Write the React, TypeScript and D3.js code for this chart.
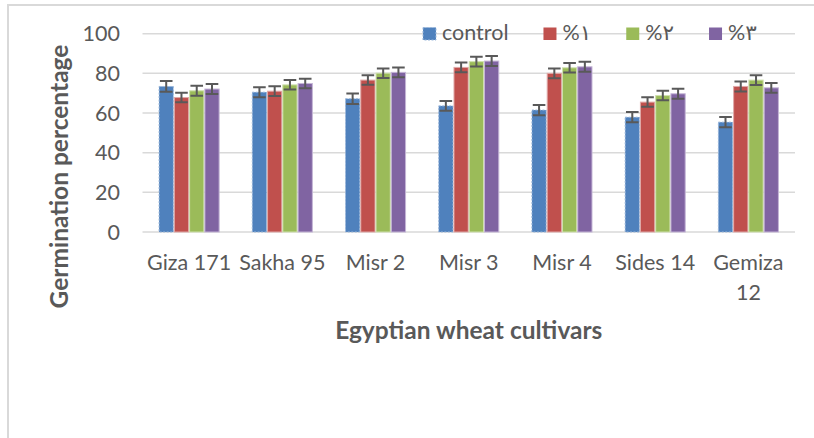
import React, { useEffect, useRef } from "react";
import * as d3 from "d3";

const categories: string[][] = [
  ["Giza 171"],
  ["Sakha 95"],
  ["Misr 2"],
  ["Misr 3"],
  ["Misr 4"],
  ["Sides 14"],
  ["Gemiza", "12"],
];
const seriesNames = ["control", "\u202D%\u0661\u202C", "\u202D%\u0662\u202C", "\u202D%\u0663\u202C"];
const seriesColors = ["#4f81bd", "#c0504d", "#9bbb59", "#8064a2"];
const seriesStrokes = ["#9bb7da", "#e0a9a8", "#cfe0ae", "#c4b5d6"];

const controlValues = [73.4, 70.5, 67.2, 63.6, 61.5, 57.9, 55.4];
const pct1Values = [67.8, 71.0, 76.6, 83.0, 80.0, 65.5, 73.4];
const pct2Values = [71.2, 74.2, 80.1, 85.9, 82.8, 68.8, 76.6];
const pct3Values = [72.1, 74.9, 80.5, 86.2, 83.3, 69.7, 72.7];

const controlErr = [2.7, 2.5, 2.6, 2.5, 2.6, 2.6, 2.6];
const pct1Err = [2.4, 2.45, 2.4, 2.5, 2.5, 2.4, 2.5];
const pct2Err = [2.5, 2.4, 2.4, 2.5, 2.4, 2.4, 2.5];
const pct3Err = [2.5, 2.4, 2.5, 2.5, 2.5, 2.5, 2.5];

const yTicks = [0, 20, 40, 60, 80, 100];
const yTitle = "Germination percentage";
const xTitle = "Egyptian wheat cultivars";

const W = 814;
const H = 438;
const FONT = "Lato, 'Open Sans', 'DejaVu Sans', sans-serif";
const TEXT = "#595959";
const GRID = "#d9d9d9";

export default function App() {
  const ref = useRef<SVGSVGElement | null>(null);

  useEffect(() => {
    const svg = d3.select(ref.current);
    svg.selectAll("*").remove();

    const values = [controlValues, pct1Values, pct2Values, pct3Values];
    const errs = [controlErr, pct1Err, pct2Err, pct3Err];
    const catKeys = categories.map((c) => c.join(" "));

    const plot = { left: 142.5, right: 795, top: 33.7, bottom: 232 };

    // outer frame
    svg
      .append("rect")
      .attr("x", 8)
      .attr("y", 5)
      .attr("width", 1000)
      .attr("height", 1000)
      .attr("fill", "#fff")
      .attr("stroke", GRID)
      .attr("stroke-width", 2);

    const y = d3.scaleLinear().domain([0, 100]).range([plot.bottom, plot.top]);
    const x0 = d3
      .scaleBand<string>()
      .domain(catKeys)
      .range([plot.left, plot.right])
      .paddingInner(0.345)
      .paddingOuter(0.1725);
    const x1 = d3
      .scaleBand<number>()
      .domain(d3.range(values.length))
      .range([0, x0.bandwidth()]);

    // gridlines
    svg
      .append("g")
      .selectAll("line")
      .data(yTicks)
      .join("line")
      .attr("x1", plot.left)
      .attr("x2", plot.right)
      .attr("y1", (d) => y(d))
      .attr("y2", (d) => y(d))
      .attr("stroke", GRID)
      .attr("stroke-width", 1.5);

    // y tick labels
    svg
      .append("g")
      .selectAll("text")
      .data(yTicks)
      .join("text")
      .attr("x", 120)
      .attr("y", (d) => y(d))
      .attr("dy", "0.36em")
      .attr("text-anchor", "end")
      .attr("font-family", FONT)
      .attr("font-size", 21.5)
      .attr("fill", TEXT)
      .text((d) => String(d));

    // bars
    const gCats = svg
      .append("g")
      .selectAll("g")
      .data(catKeys)
      .join("g")
      .attr("transform", (d) => `translate(${x0(d)},0)`);

    values.forEach((vals, s) => {
      gCats
        .append("rect")
        .attr("x", x1(s)! + 0.5)
        .attr("y", (_d, i) => y(vals[i]))
        .attr("width", x1.bandwidth() - 1)
        .attr("height", (_d, i) => y(0) - y(vals[i]))
        .attr("fill", seriesColors[s])
        .attr("stroke", seriesStrokes[s])
        .attr("stroke-width", 1)
        .attr("stroke-dasharray", s === 0 ? "2,1.5" : null);
    });

    // error bars
    values.forEach((vals, s) => {
      const cx = x1(s)! + x1.bandwidth() / 2;
      const cap = 6.3;
      gCats.each(function (_d, i) {
        const g = d3.select(this);
        const v = vals[i];
        const e = errs[s][i];
        const path = d3.path();
        path.moveTo(cx, y(v + e));
        path.lineTo(cx, y(v - e));
        path.moveTo(cx - cap, y(v + e));
        path.lineTo(cx + cap, y(v + e));
        path.moveTo(cx - cap, y(v - e));
        path.lineTo(cx + cap, y(v - e));
        g.append("path")
          .attr("d", path.toString())
          .attr("stroke", "#595959")
          .attr("stroke-width", 2)
          .attr("fill", "none");
      });
    });

    // category labels
    svg
      .append("g")
      .selectAll("text")
      .data(categories)
      .join("text")
      .attr("x", (_d, i) => x0(catKeys[i])! + x0.bandwidth() / 2)
      .attr("y", 270)
      .attr("text-anchor", "middle")
      .attr("font-family", FONT)
      .attr("font-size", 21.5)
      .attr("fill", TEXT)
      .each(function (d, i) {
        const t = d3.select(this);
        const cx = x0(catKeys[i])! + x0.bandwidth() / 2;
        d.forEach((line, li) => {
          t.append("tspan")
            .attr("x", cx)
            .attr("dy", li === 0 ? 0 : 30)
            .text(line);
        });
      });

    // axis titles
    svg
      .append("text")
      .attr("x", (plot.left + plot.right) / 2)
      .attr("y", 339)
      .attr("text-anchor", "middle")
      .attr("font-family", FONT)
      .attr("font-weight", "bold")
      .attr("font-size", 24.5)
      .attr("fill", TEXT)
      .text(xTitle);

    svg
      .append("text")
      .attr("transform", `translate(68,176.5) rotate(-90)`)
      .attr("text-anchor", "middle")
      .attr("font-family", FONT)
      .attr("font-weight", "bold")
      .attr("font-size", 24.5)
      .attr("fill", TEXT)
      .text(yTitle);

    // legend
    const lg = svg.append("g");
    let lx = 423;
    seriesNames.forEach((name, s) => {
      lg.append("rect")
        .attr("x", lx)
        .attr("y", 27.5)
        .attr("width", 13)
        .attr("height", 12.5)
        .attr("fill", seriesColors[s])
        .attr("stroke", s === 0 ? seriesStrokes[0] : "none")
        .attr("stroke-dasharray", s === 0 ? "2,1.5" : null);
      const t = lg
        .append("text")
        .attr("x", lx + 19)
        .attr("y", 39.5)
        .attr("font-family", FONT)
        .attr("font-size", 21.5)
        .attr("fill", TEXT)
        .text(name);
      const w = (t.node() as SVGTextElement).getComputedTextLength();
      lx = lx + 19 + w + 35;
    });
  }, []);

  return (
    <svg
      ref={ref}
      width={W}
      height={H}
      style={{ position: "absolute", left: 0, top: 0, background: "#fff" }}
    />
  );
}
